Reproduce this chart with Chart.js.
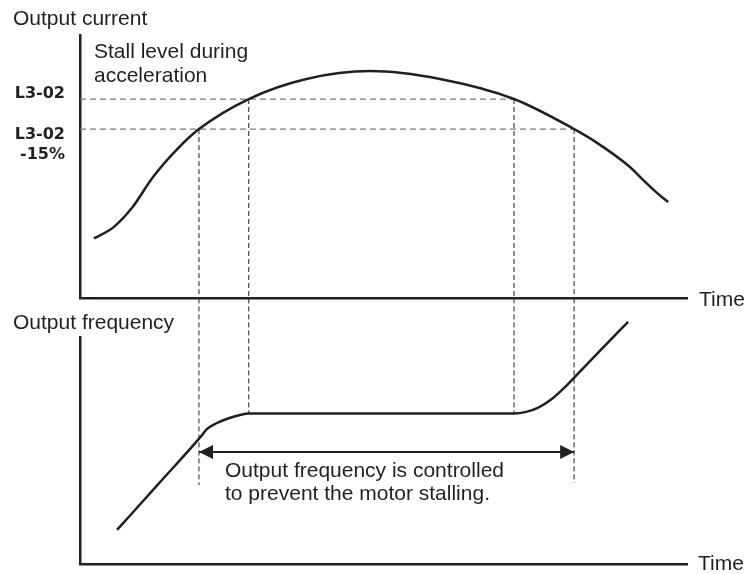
<!DOCTYPE html>
<html>
<head>
<meta charset="utf-8">
<script src="https://cdn.jsdelivr.net/npm/chart.js@4.4.1/dist/chart.umd.min.js"></script>
<style>
  html, body { margin: 0; padding: 0; background: #fff; }
  #wrap { position: relative; width: 745px; height: 574px; }
  #wrap canvas { position: absolute; left: 0; top: 0; }
</style>
</head>
<body>
<div id="wrap">
  <canvas id="cur" width="745" height="574"></canvas>
  <canvas id="freq" width="745" height="574"></canvas>
</div>
<script>
// ===== Stall prevention during acceleration: current / frequency vs time =====

const INK = '#231f20';
const FONT = '"Liberation Sans", Arial, Helvetica, sans-serif';

// time axis runs 0..100 (arbitrary units)
const CUR_T = [2.3, 5.5, 8.6, 12.0, 15.9, 19.6, 27.8, 37.3, 47.8, 59.3, 71.5, 81.4, 84.5, 90.6, 92.5, 95.0, 96.9];
const CUR_V = [22.8, 27.0, 34.5, 46.0, 56.4, 64.3, 75.7, 83.3, 86.3, 83.3, 75.7, 64.3, 60.1, 49.9, 45.6, 40.2, 36.6];

const FREQ_T = [6.1, 13.0, 19.9, 20.9, 22.5, 24.5, 26.2, 27.8, 71.5, 73.5, 75.5, 77.5, 79.9, 81.3, 85.8, 90.3];
const FREQ_V = [15.0, 35.5, 56.1, 59.4, 62.0, 64.2, 65.5, 66.3, 66.3, 67.0, 68.9, 72.2, 77.9, 81.8, 94.3, 106.7];

// stall level L3-02 and L3-02 -15%
const LEVELS = [75.7, 64.3];
const LEVEL_LABELS = [['L3-02'], ['L3-02', '-15%']];

// crossing times and which level each one belongs to
const GUIDE_T = [19.6, 27.8, 71.5, 81.4];
const GUIDE_LEVEL = [1, 0, 0, 1];
// where each guide stops in the frequency panel
const GUIDE_FREQ_END = [34.8, 66.3, 66.3, 35.7];
const GUIDE_FREQ_TOP = 117;

// double arrow marking the controlled interval
const ARROW_T = [19.6, 81.4];
const ARROW_V = 49.3;

const MSG = ['Output frequency is controlled', 'to prevent the motor stalling.'];

function pts(xs, ys) {
  return xs.map((x, i) => ({ x, y: ys[i] }));
}

function mkLine(data, opts = {}) {
  return {
    data, showLine: true, borderColor: INK, borderWidth: 2.5,
    pointRadius: 0, fill: false, tension: 0, ...opts
  };
}

function axis() {
  return {
    type: 'linear', min: 0, max: 100,
    ticks: { display: false },
    grid: { display: false, drawTicks: false },
    border: { display: true, color: INK, width: 2.5 }
  };
}

function textAt(ctx, s, x, y, font, align = 'left') {
  ctx.save();
  ctx.font = font;
  ctx.fillStyle = INK;
  ctx.textAlign = align;
  ctx.textBaseline = 'alphabetic';
  ctx.fillText(s, x, y);
  ctx.restore();
}

const TXT = '21px ' + FONT;
const LBL = 'bold 16px "DejaVu Sans", sans-serif';

const curLabels = {
  id: 'curLabels',
  afterDraw(chart) {
    const { ctx, scales: { x, y } } = chart;
    textAt(ctx, 'Output current', 13, 25, TXT);
    textAt(ctx, 'Stall level during', 94, 58, TXT);
    textAt(ctx, 'acceleration', 94, 82, TXT);
    // level names sit beside the y axis
    const p0 = y.getPixelForValue(LEVELS[0]);
    textAt(ctx, LEVEL_LABELS[0][0], 65, p0 - 1, LBL, 'right');
    const p1 = y.getPixelForValue(LEVELS[1]);
    textAt(ctx, LEVEL_LABELS[1][0], 65, p1 + 10, LBL, 'right');
    textAt(ctx, LEVEL_LABELS[1][1], 65, p1 + 30, LBL, 'right');
    textAt(ctx, 'Time', x.right + 12, y.bottom + 7.5, TXT);
  }
};

const freqLabels = {
  id: 'freqLabels',
  afterDraw(chart) {
    const { ctx, scales: { x, y } } = chart;
    textAt(ctx, 'Output frequency', 13, 329, TXT);
    textAt(ctx, 'Time', x.right + 11, y.bottom + 6, TXT);
    textAt(ctx, MSG[0], 225, 477, TXT);
    textAt(ctx, MSG[1], 225, 500, TXT);

    // arrow heads at both ends
    const py = y.getPixelForValue(ARROW_V);
    const a = x.getPixelForValue(ARROW_T[0]);
    const b = x.getPixelForValue(ARROW_T[1]);
    ctx.save();
    ctx.fillStyle = INK;
    ctx.beginPath();
    ctx.moveTo(a, py); ctx.lineTo(a + 14, py - 7); ctx.lineTo(a + 14, py + 7);
    ctx.closePath(); ctx.fill();
    ctx.beginPath();
    ctx.moveTo(b, py); ctx.lineTo(b - 14, py - 7); ctx.lineTo(b - 14, py + 7);
    ctx.closePath(); ctx.fill();
    ctx.restore();
  }
};

function baseOpts(padding) {
  return {
    responsive: false, animation: false, devicePixelRatio: 1,
    layout: { padding, autoPadding: false },
    plugins: { legend: { display: false }, tooltip: { enabled: false } },
    scales: { x: axis(), y: axis() }
  };
}

// --- output current panel ---
const curSets = [
  mkLine(pts(CUR_T, CUR_V), { cubicInterpolationMode: 'monotone' })
];
LEVELS.forEach((lv, i) => {
  const last = Math.max(...GUIDE_T.filter((t, k) => GUIDE_LEVEL[k] === i));
  curSets.push(mkLine([{ x: 0, y: lv }, { x: last, y: lv }],
    { borderColor: '#7a7a7a', borderWidth: 1.3, borderDash: [6, 4] }));
});
GUIDE_T.forEach((t, k) => {
  curSets.push(mkLine([{ x: t, y: LEVELS[GUIDE_LEVEL[k]] }, { x: t, y: 0 }],
    { borderWidth: 1, borderDash: [5, 3] }));
});

new Chart(document.getElementById('cur'), {
  type: 'scatter',
  data: { datasets: curSets },
  options: baseOpts({ left: 80, right: 58, top: 35, bottom: 574 - 298.5 }),
  plugins: [curLabels]
});

// --- output frequency panel ---
const freqSets = [
  mkLine(pts(FREQ_T, FREQ_V), { cubicInterpolationMode: 'monotone', clip: false }),
  mkLine([{ x: ARROW_T[0], y: ARROW_V }, { x: ARROW_T[1], y: ARROW_V }], { borderWidth: 2 })
];
GUIDE_T.forEach((t, k) => {
  freqSets.push(mkLine([{ x: t, y: GUIDE_FREQ_TOP }, { x: t, y: GUIDE_FREQ_END[k] }],
    { borderWidth: 1, borderDash: [5, 3], clip: false }));
});

new Chart(document.getElementById('freq'), {
  type: 'scatter',
  data: { datasets: freqSets },
  options: baseOpts({ left: 80, right: 58, top: 337, bottom: 574 - 564 }),
  plugins: [freqLabels]
});
</script>
</body>
</html>
